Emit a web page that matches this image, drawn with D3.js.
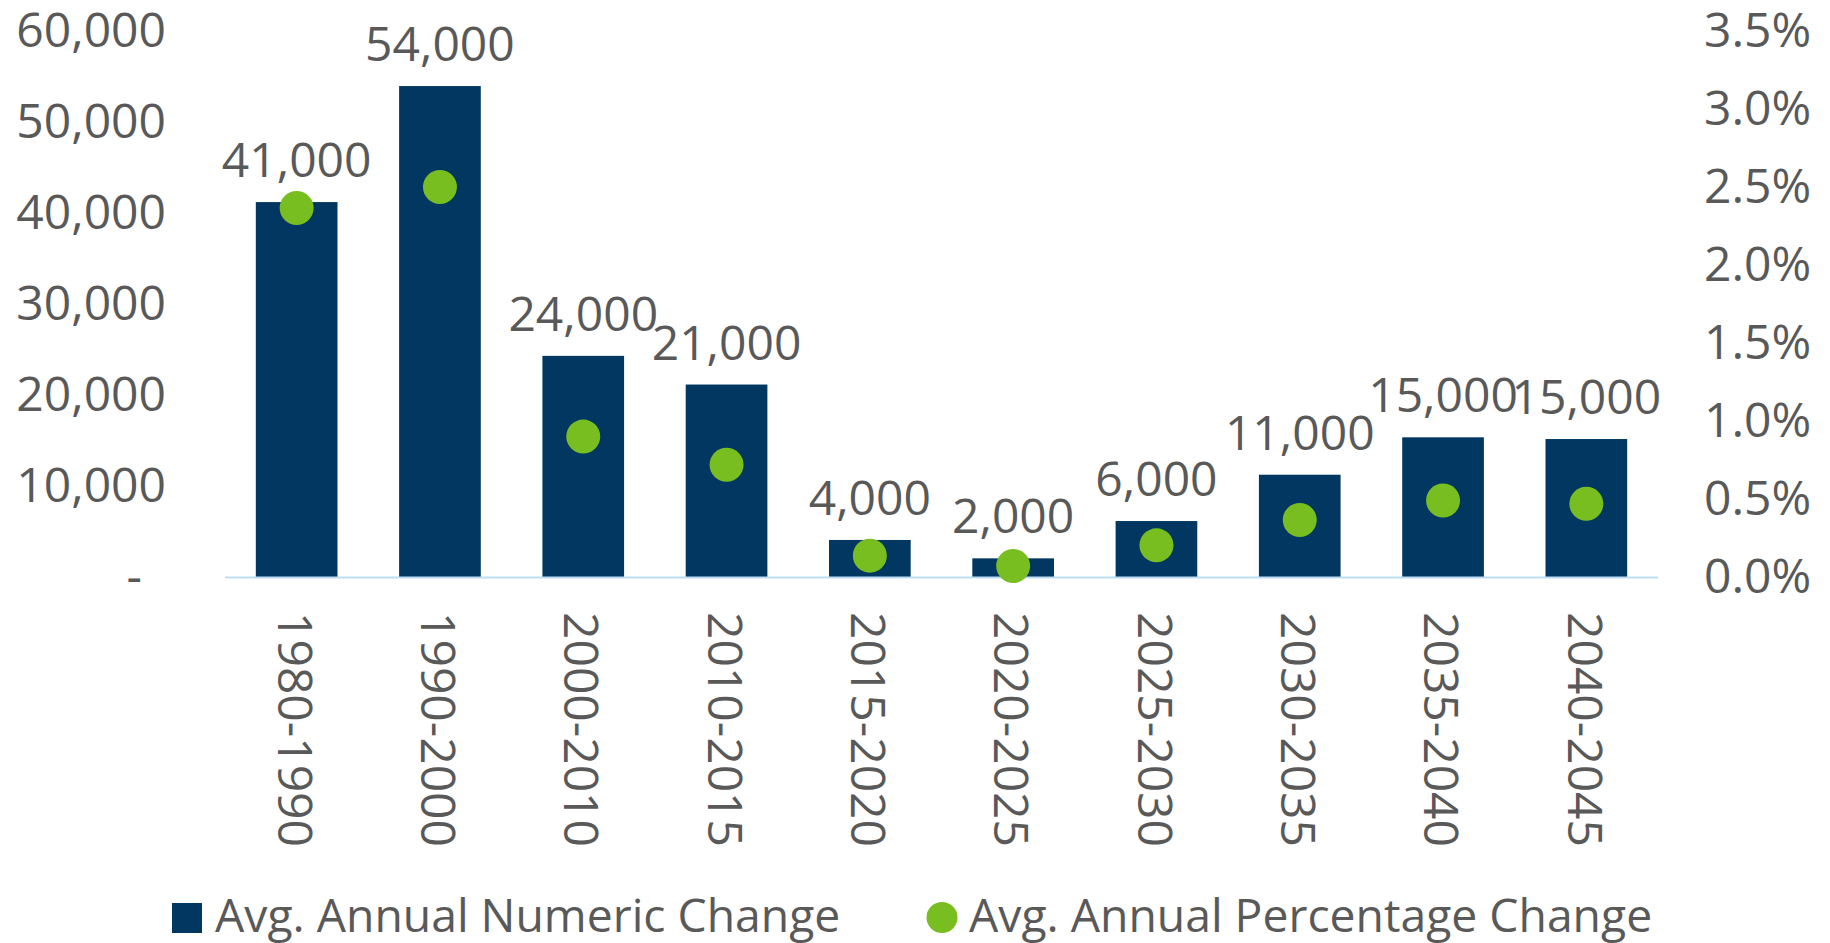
<!DOCTYPE html>
<html lang="en">
<head>
    <meta charset="UTF-8">
    <title>annual change</title>
    <script src="https://cdn.jsdelivr.net/npm/d3@7"></script>
    <style>
        body { margin: 0; background: #fff; }
        text { font-family: "Open Sans", sans-serif; fill: #595959; }
    </style>
</head>
<body>
    <svg id="chart" width="1830" height="943"></svg>

    <script>
        // values
        let periods = ["1980-1990", "1990-2000", "2000-2010", "2010-2015", "2015-2020",
            "2020-2025", "2025-2030", "2030-2035", "2035-2040", "2040-2045"];
        let numericChange = [41200, 53950, 24300, 21150, 4070, 2050, 6150, 11240, 15350, 15160];
        let percentChange = [0.02365, 0.0250, 0.0090, 0.0072, 0.00137, 0.0007, 0.00203, 0.00365, 0.0049, 0.0047];
        let leftTicks = [0, 10000, 20000, 30000, 40000, 50000, 60000];
        let rightTicks = [0, 0.005, 0.01, 0.015, 0.02, 0.025, 0.03, 0.035];
        let legendLabels = ["Avg. Annual Numeric Change", "Avg. Annual Percentage Change"];

        const svg = d3.select("#chart");
        const plotLeft = 225, plotRight = 1658, plotTop = 31, plotBottom = 577;
        const fontSize = 48;

        let x = d3.scaleBand().domain(periods).range([plotLeft, plotRight]).paddingInner(0.43).paddingOuter(0.215);
        let yLeft = d3.scaleLinear().domain([0, 60000]).range([plotBottom, plotTop]);
        let yRight = d3.scaleLinear().domain([0, 0.035]).range([plotBottom, plotTop]);

        // bars
        svg.append("g").selectAll("rect")
            .data(numericChange)
            .join("rect")
            .attr("x", (d, i) => x(periods[i]))
            .attr("width", x.bandwidth())
            .attr("y", d => yLeft(d))
            .attr("height", d => plotBottom - yLeft(d))
            .attr("fill", "#023761");

        // baseline
        svg.append("line")
            .attr("x1", plotLeft).attr("x2", plotRight)
            .attr("y1", plotBottom + 0.5).attr("y2", plotBottom + 0.5)
            .attr("stroke", "#BDDDF5").attr("stroke-width", 2);

        // bar labels
        let fmt = d3.format(",");
        svg.append("g").selectAll("text")
            .data(numericChange)
            .join("text")
            .attr("x", (d, i) => x(periods[i]) + x.bandwidth() / 2)
            .attr("y", d => yLeft(d) - 25)
            .attr("text-anchor", "middle")
            .attr("font-size", fontSize)
            .text(d => fmt(Math.round(d / 1000) * 1000));

        // dots
        svg.append("g").selectAll("circle")
            .data(percentChange)
            .join("circle")
            .attr("cx", (d, i) => x(periods[i]) + x.bandwidth() / 2)
            .attr("cy", d => yRight(d))
            .attr("r", 17)
            .attr("fill", "#78BE20");

        // left axis
        let leftAxis = svg.append("g")
            .attr("transform", `translate(${plotLeft},0)`)
            .call(d3.axisLeft(yLeft).tickValues(leftTicks).tickSize(0).tickPadding(59)
                .tickFormat(d => d === 0 ? "-" : fmt(d)));
        leftAxis.select(".domain").remove();
        leftAxis.selectAll("text").attr("font-size", fontSize).attr("fill", "#595959")
            .attr("font-family", "Open Sans")
            .attr("dx", d => d === 0 ? -24 : 0);

        // right axis
        let rightAxis = svg.append("g")
            .attr("transform", `translate(${plotRight},0)`)
            .call(d3.axisRight(yRight).tickValues(rightTicks).tickSize(0).tickPadding(46)
                .tickFormat(d3.format(".1%")));
        rightAxis.select(".domain").remove();
        rightAxis.selectAll("text").attr("font-size", fontSize).attr("fill", "#595959")
            .attr("font-family", "Open Sans");

        // category labels, rotated
        svg.append("g").selectAll("text")
            .data(periods)
            .join("text")
            .attr("transform", d => `translate(${x(d) + x.bandwidth() / 2 - 2},612) rotate(90)`)
            .attr("dy", "0.35em")
            .attr("font-size", fontSize)
            .text(d => d);

        // legend
        let legend = svg.append("g");
        legend.append("rect")
            .attr("x", 172).attr("y", 903).attr("width", 30).attr("height", 30)
            .attr("fill", "#023761");
        legend.append("text")
            .attr("x", 215).attr("y", 932)
            .attr("font-size", 46.3)
            .text(legendLabels[0]);
        legend.append("circle")
            .attr("cx", 942).attr("cy", 917.5).attr("r", 15.5)
            .attr("fill", "#78BE20");
        legend.append("text")
            .attr("x", 969).attr("y", 932)
            .attr("font-size", 46.3)
            .text(legendLabels[1]);
    </script>
</body>
</html>
